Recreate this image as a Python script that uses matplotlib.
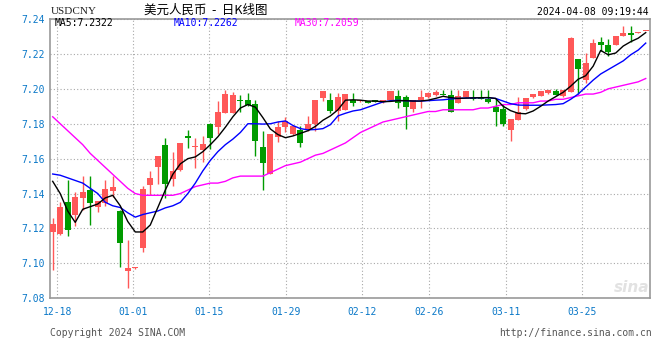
import matplotlib
matplotlib.use('Agg')
import matplotlib.pyplot as plt

# USDCNY daily candles (80 trading days)
opens = [7.1182, 7.1170, 7.1351, 7.1277, 7.1375, 7.1419, 7.1324, 7.1347, 7.1413, 7.1300,
         7.0958, 7.0972, 7.1091, 7.1447, 7.1551, 7.1680, 7.1483, 7.1535, 7.1731, 7.1667,
         7.1652, 7.1798, 7.1784, 7.1864, 7.1860, 7.1938, 7.1936, 7.1913, 7.1669, 7.1514,
         7.1722, 7.1782, 7.1741, 7.1764, 7.1764, 7.1798, 7.1949, 7.1936, 7.1873, 7.1879,
         7.1936, 7.1928, 7.1928, 7.1934, 7.1923, 7.1934, 7.1958, 7.1953, 7.1886, 7.1936,
         7.1955, 7.1964, 7.1967, 7.1964, 7.1920, 7.1955, 7.1947, 7.1944, 7.1941, 7.1898,
         7.1883, 7.1765, 7.1822, 7.1886, 7.1953, 7.1958, 7.1974, 7.1987, 7.1958, 7.1981,
         7.2168, 7.2048, 7.2176, 7.2267, 7.2252, 7.2252, 7.2303, 7.2321, 7.2318, 7.2330]
highs = [7.1261, 7.1352, 7.1476, 7.1411, 7.1498, 7.1498, 7.1360, 7.1476, 7.1498, 7.1305,
         7.1135, 7.0978, 7.1442, 7.1532, 7.1618, 7.1716, 7.1636, 7.1688, 7.1765, 7.1718,
         7.1731, 7.1807, 7.1930, 7.1994, 7.1983, 7.1962, 7.1977, 7.1936, 7.1756, 7.1744,
         7.1816, 7.1839, 7.1795, 7.1788, 7.1845, 7.1936, 7.1987, 7.1977, 7.1977, 7.1968,
         7.1974, 7.1936, 7.1930, 7.1936, 7.1936, 7.1986, 7.1993, 7.1964, 7.1935, 7.1993,
         7.1981, 7.1993, 7.1993, 7.1993, 7.1993, 7.1987, 7.1993, 7.1993, 7.1993, 7.1945,
         7.1911, 7.1826, 7.1955, 7.1949, 7.1968, 7.1987, 7.1991, 7.1997, 7.1991, 7.2299,
         7.2170, 7.2205, 7.2286, 7.2295, 7.2284, 7.2305, 7.2359, 7.2359, 7.2328, 7.2332]
lows = [7.0964, 7.1165, 7.1159, 7.1216, 7.1305, 7.1220, 7.1295, 7.1328, 7.1381, 7.0977,
        7.0860, 7.0970, 7.1068, 7.1390, 7.1457, 7.1377, 7.1441, 7.1530, 7.1659, 7.1545,
        7.1580, 7.1656, 7.1744, 7.1864, 7.1860, 7.1869, 7.1900, 7.1618, 7.1419, 7.1514,
        7.1693, 7.1750, 7.1735, 7.1665, 7.1758, 7.1756, 7.1930, 7.1864, 7.1816, 7.1879,
        7.1902, 7.1926, 7.1918, 7.1924, 7.1920, 7.1934, 7.1892, 7.1769, 7.1865, 7.1892,
        7.1949, 7.1958, 7.1965, 7.1869, 7.1920, 7.1955, 7.1937, 7.1939, 7.1919, 7.1788,
        7.1788, 7.1703, 7.1822, 7.1880, 7.1945, 7.1958, 7.1970, 7.1962, 7.1952, 7.1981,
        7.1970, 7.2034, 7.2176, 7.2218, 7.2186, 7.2252, 7.2303, 7.2271, 7.2318, 7.2330]
closes = [7.1226, 7.1322, 7.1193, 7.1379, 7.1407, 7.1347, 7.1358, 7.1424, 7.1436, 7.1119,
          7.0974, 7.0976, 7.1424, 7.1487, 7.1618, 7.1457, 7.1527, 7.1688, 7.1718, 7.1670,
          7.1684, 7.1716, 7.1868, 7.1968, 7.1962, 7.1928, 7.1909, 7.1703, 7.1574, 7.1744,
          7.1782, 7.1816, 7.1788, 7.1688, 7.1801, 7.1936, 7.1987, 7.1873, 7.1953, 7.1968,
          7.1920, 7.1935, 7.1920, 7.1926, 7.1934, 7.1986, 7.1920, 7.1898, 7.1935, 7.1953,
          7.1976, 7.1981, 7.1965, 7.1869, 7.1958, 7.1987, 7.1942, 7.1941, 7.1926, 7.1869,
          7.1801, 7.1826, 7.1868, 7.1949, 7.1968, 7.1987, 7.1991, 7.1962, 7.1991, 7.2290,
          7.2114, 7.2148, 7.2262, 7.2252, 7.2209, 7.2305, 7.2318, 7.2308, 7.2322, 7.2332]

# moving averages as drawn in the picture
ma5 = [7.1470, 7.1400, 7.1300, 7.1235, 7.1310, 7.1325, 7.1340, 7.1375, 7.1390, 7.1330,
       7.1240, 7.1180, 7.1180, 7.1220, 7.1320, 7.1420, 7.1510, 7.1570, 7.1600, 7.1610,
       7.1640, 7.1680, 7.1725, 7.1780, 7.1840, 7.1890, 7.1910, 7.1895, 7.1835, 7.1770,
       7.1738, 7.1720, 7.1730, 7.1745, 7.1760, 7.1785, 7.1820, 7.1845, 7.1880, 7.1935,
       7.1937, 7.1935, 7.1930, 7.1930, 7.1926, 7.1928, 7.1932, 7.1932, 7.1930, 7.1930,
       7.1935, 7.1945, 7.1957, 7.1950, 7.1945, 7.1947, 7.1948, 7.1949, 7.1950, 7.1945,
       7.1900, 7.1875, 7.1860, 7.1857, 7.1873, 7.1900, 7.1930, 7.1955, 7.1980, 7.2015,
       7.2055, 7.2075, 7.2130, 7.2220, 7.2195, 7.2205, 7.2245, 7.2270, 7.2290, 7.2322]
ma10 = [7.1512, 7.1505, 7.1490, 7.1475, 7.1460, 7.1430, 7.1400, 7.1350, 7.1330, 7.1320,
        7.1290, 7.1265, 7.1280, 7.1290, 7.1300, 7.1318, 7.1330, 7.1350, 7.1400, 7.1460,
        7.1530, 7.1590, 7.1640, 7.1680, 7.1712, 7.1750, 7.1800, 7.1800, 7.1798, 7.1800,
        7.1810, 7.1816, 7.1790, 7.1772, 7.1765, 7.1767, 7.1772, 7.1795, 7.1845, 7.1860,
        7.1873, 7.1880, 7.1895, 7.1910, 7.1925, 7.1932, 7.1934, 7.1932, 7.1930, 7.1930,
        7.1932, 7.1935, 7.1937, 7.1942, 7.1945, 7.1947, 7.1948, 7.1949, 7.1949, 7.1945,
        7.1930, 7.1915, 7.1907, 7.1906, 7.1906, 7.1906, 7.1908, 7.1910, 7.1915, 7.1940,
        7.1970, 7.2010, 7.2050, 7.2085, 7.2110, 7.2135, 7.2160, 7.2195, 7.2222, 7.2262]
ma30 = [7.1840, 7.1800, 7.1760, 7.1720, 7.1680, 7.1630, 7.1590, 7.1550, 7.1510, 7.1470,
        7.1430, 7.1400, 7.1390, 7.1390, 7.1390, 7.1390, 7.1390, 7.1400, 7.1420, 7.1440,
        7.1450, 7.1460, 7.1460, 7.1470, 7.1490, 7.1500, 7.1500, 7.1500, 7.1500, 7.1520,
        7.1540, 7.1560, 7.1570, 7.1580, 7.1600, 7.1620, 7.1630, 7.1650, 7.1670, 7.1690,
        7.1720, 7.1750, 7.1770, 7.1790, 7.1810, 7.1820, 7.1830, 7.1840, 7.1850, 7.1860,
        7.1870, 7.1870, 7.1880, 7.1880, 7.1880, 7.1880, 7.1880, 7.1890, 7.1890, 7.1900,
        7.1910, 7.1910, 7.1920, 7.1920, 7.1920, 7.1930, 7.1930, 7.1940, 7.1940, 7.1950,
        7.1960, 7.1970, 7.1970, 7.1980, 7.2000, 7.2010, 7.2020, 7.2030, 7.2040, 7.2059]

date_labels = ['12-18', '01-01', '01-15', '01-29', '02-12', '02-26', '03-11', '03-25']
date_pos = [0.61, 10.74, 20.86, 31.04, 41.24, 50.17, 60.35, 70.56]
y_ticks = [7.08, 7.10, 7.12, 7.14, 7.16, 7.18, 7.20, 7.22, 7.24]

RED = '#ff5858'
GREEN = '#009b00'
BLUE_TXT = '#0a78c8'
MONO = 'DejaVu Sans Mono'

fig = plt.figure(figsize=(6.6, 3.6), dpi=100)
W, H = 660.0, 360.0
ax = fig.add_axes([50 / W, 1 - 298.3 / H, 600 / W, 279.3 / H])

n = len(closes)
xs = list(range(n))
cols = [RED if c >= o else GREEN for o, c in zip(opens, closes)]
bottoms = [min(o, c) for o, c in zip(opens, closes)]
heights = [max(abs(c - o), 0.0006) for o, c in zip(opens, closes)]

ax.vlines(xs, lows, highs, colors=cols, linewidth=1.0, zorder=3)
ax.bar(xs, heights, bottom=bottoms, width=0.8, color=cols, linewidth=0, zorder=4)

ax.plot(xs, ma30, color='#ff00ff', linewidth=1.0, zorder=5)
ax.plot(xs, ma10, color='#0000ff', linewidth=1.0, zorder=5)
ax.plot(xs, ma5, color='black', linewidth=1.0, zorder=5)

ax.set_xlim(-0.36, 79.57)
ax.set_ylim(7.08, 7.2392)
ax.set_yticks(y_ticks)
ax.set_yticklabels(['%.2f' % v for v in y_ticks])
ax.set_xticks(date_pos)
ax.set_xticklabels(date_labels)
ax.tick_params(length=0, labelsize=7, labelcolor=BLUE_TXT)
ax.tick_params(axis='y', pad=4)
ax.tick_params(axis='x', pad=6)
for lab in ax.get_xticklabels() + ax.get_yticklabels():
    lab.set_family(MONO)
ax.grid(True, linestyle=(0, (1, 2)), color='#a8a8a8', linewidth=0.8)
ax.set_axisbelow(True)
for s in ax.spines.values():
    s.set_color('#999999')
    s.set_linewidth(1.2)

# header
fig.text(51 / W, 1 - 12 / H, 'USDCNY', family='Liberation Serif', fontsize=8,
         va='center', ha='left', color='#222222')
fig.text(206 / W, 1 - 10 / H, '美元人民币  -  日K线图', family=['Noto Sans CJK SC', 'DejaVu Sans'],
         fontsize=9, va='center', ha='center', color='black')
fig.text(649 / W, 1 - 12 / H, '2024-04-08 09:19:44', family=MONO, fontsize=7,
         va='center', ha='right', color='black')

# MA values inside the plot
fig.text(55 / W, 1 - 23.5 / H, 'MA5:%.4f' % ma5[-1], family=MONO, fontsize=7,
         va='center', ha='left', color='black')
fig.text(174 / W, 1 - 23.5 / H, 'MA10:%.4f' % ma10[-1], family=MONO, fontsize=7,
         va='center', ha='left', color='#0000ff')
fig.text(295 / W, 1 - 23.5 / H, 'MA30:%.4f' % ma30[-1], family=MONO, fontsize=7,
         va='center', ha='left', color='#ff00ff')

# watermark and footer
fig.text(632 / W, 1 - 287 / H, 'sina', fontsize=11, style='italic', weight='bold',
         color='#e2e2e2', va='center', ha='center')
fig.text(50 / W, 1 - 333 / H, 'Copyright 2024 SINA.COM', family=MONO, fontsize=7,
         va='center', ha='left', color='#555555')
fig.text(652 / W, 1 - 333 / H, 'http://finance.sina.com.cn', family=MONO, fontsize=7,
         va='center', ha='right', color='#555555')

fig.savefig('out.png', dpi=100)
